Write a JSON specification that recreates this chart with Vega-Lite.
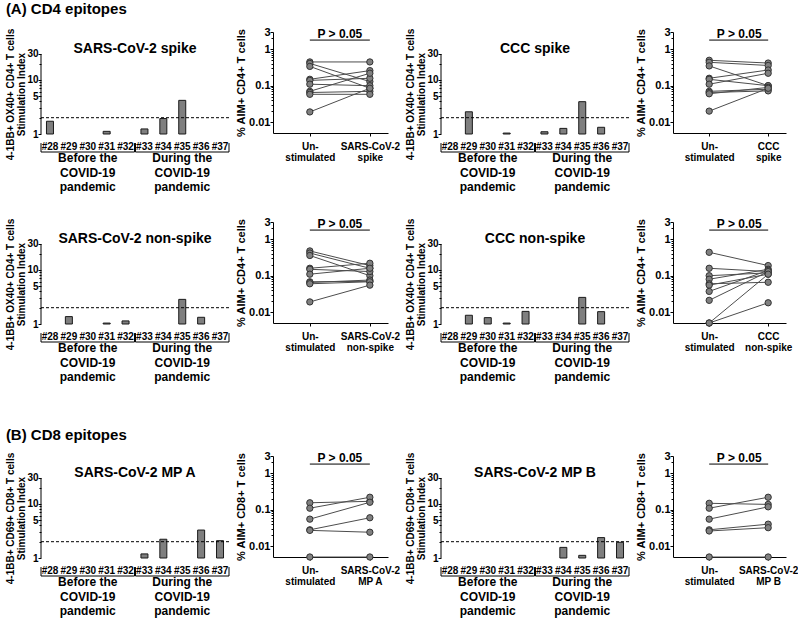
{
  "$schema": "https://vega.github.io/schema/vega-lite/v6.json",
  "background": "white",
  "padding": {"left": 5, "right": 0, "top": 2, "bottom": 2},
  "config": {
    "font": "Liberation Sans",
    "view": {"stroke": null},
    "axis": {"labelFont": "Liberation Sans", "titleFont": "Liberation Sans", "labelFontWeight": "bold", "titleFontWeight": "bold", "labelColor": "#000", "titleColor": "#000", "domainColor": "#000", "tickColor": "#000", "grid": false, "labelOverlap": false},
    "title": {"font": "Liberation Sans", "fontWeight": "bold", "color": "#000"},
    "text": {"font": "Liberation Sans", "fontWeight": "bold", "color": "#000"}
  },
  "datasets": {
    "bars": [
      {"panel": "SARS-CoV-2 spike", "donor": "#28", "si": 1.72},
      {"panel": "SARS-CoV-2 spike", "donor": "#31", "si": 1.12},
      {"panel": "SARS-CoV-2 spike", "donor": "#33", "si": 1.24},
      {"panel": "SARS-CoV-2 spike", "donor": "#34", "si": 1.93},
      {"panel": "SARS-CoV-2 spike", "donor": "#35", "si": 4.18},
      {"panel": "CCC spike", "donor": "#29", "si": 2.57},
      {"panel": "CCC spike", "donor": "#31", "si": 1.04},
      {"panel": "CCC spike", "donor": "#33", "si": 1.1},
      {"panel": "CCC spike", "donor": "#34", "si": 1.27},
      {"panel": "CCC spike", "donor": "#35", "si": 3.95},
      {"panel": "CCC spike", "donor": "#36", "si": 1.33},
      {"panel": "SARS-CoV-2 non-spike", "donor": "#29", "si": 1.37},
      {"panel": "SARS-CoV-2 non-spike", "donor": "#31", "si": 1.04},
      {"panel": "SARS-CoV-2 non-spike", "donor": "#32", "si": 1.14},
      {"panel": "SARS-CoV-2 non-spike", "donor": "#35", "si": 2.85},
      {"panel": "SARS-CoV-2 non-spike", "donor": "#36", "si": 1.33},
      {"panel": "CCC non-spike", "donor": "#29", "si": 1.45},
      {"panel": "CCC non-spike", "donor": "#30", "si": 1.31},
      {"panel": "CCC non-spike", "donor": "#31", "si": 1.04},
      {"panel": "CCC non-spike", "donor": "#32", "si": 1.71},
      {"panel": "CCC non-spike", "donor": "#35", "si": 3.1},
      {"panel": "CCC non-spike", "donor": "#36", "si": 1.69},
      {"panel": "SARS-CoV-2 MP A", "donor": "#33", "si": 1.19},
      {"panel": "SARS-CoV-2 MP A", "donor": "#34", "si": 2.22},
      {"panel": "SARS-CoV-2 MP A", "donor": "#36", "si": 3.28},
      {"panel": "SARS-CoV-2 MP A", "donor": "#37", "si": 2.09},
      {"panel": "SARS-CoV-2 MP B", "donor": "#34", "si": 1.57},
      {"panel": "SARS-CoV-2 MP B", "donor": "#35", "si": 1.12},
      {"panel": "SARS-CoV-2 MP B", "donor": "#36", "si": 2.38},
      {"panel": "SARS-CoV-2 MP B", "donor": "#37", "si": 1.95}
    ],
    "cutoff": [{"si": 2}],
    "groups": [
      {"first": "#28", "last": "#32", "mid": "#30", "label": "Before the\nCOVID-19\npandemic"},
      {"first": "#33", "last": "#37", "mid": "#35", "label": "During the\nCOVID-19\npandemic"}
    ],
    "pval": [{"label": "P > 0.05"}],
    "dots": [
      {"panel": "SARS-CoV-2 spike", "pair": 1, "condition": "Un-\nstimulated", "pct": 0.45},
      {"panel": "SARS-CoV-2 spike", "pair": 1, "condition": "SARS-CoV-2\nspike", "pct": 0.45},
      {"panel": "SARS-CoV-2 spike", "pair": 2, "condition": "Un-\nstimulated", "pct": 0.41},
      {"panel": "SARS-CoV-2 spike", "pair": 2, "condition": "SARS-CoV-2\nspike", "pct": 0.13},
      {"panel": "SARS-CoV-2 spike", "pair": 3, "condition": "Un-\nstimulated", "pct": 0.34},
      {"panel": "SARS-CoV-2 spike", "pair": 3, "condition": "SARS-CoV-2\nspike", "pct": 0.085},
      {"panel": "SARS-CoV-2 spike", "pair": 4, "condition": "Un-\nstimulated", "pct": 0.15},
      {"panel": "SARS-CoV-2 spike", "pair": 4, "condition": "SARS-CoV-2\nspike", "pct": 0.26},
      {"panel": "SARS-CoV-2 spike", "pair": 5, "condition": "Un-\nstimulated", "pct": 0.14},
      {"panel": "SARS-CoV-2 spike", "pair": 5, "condition": "SARS-CoV-2\nspike", "pct": 0.16},
      {"panel": "SARS-CoV-2 spike", "pair": 6, "condition": "Un-\nstimulated", "pct": 0.11},
      {"panel": "SARS-CoV-2 spike", "pair": 6, "condition": "SARS-CoV-2\nspike", "pct": 0.1},
      {"panel": "SARS-CoV-2 spike", "pair": 7, "condition": "Un-\nstimulated", "pct": 0.07},
      {"panel": "SARS-CoV-2 spike", "pair": 7, "condition": "SARS-CoV-2\nspike", "pct": 0.22},
      {"panel": "SARS-CoV-2 spike", "pair": 8, "condition": "Un-\nstimulated", "pct": 0.065},
      {"panel": "SARS-CoV-2 spike", "pair": 8, "condition": "SARS-CoV-2\nspike", "pct": 0.07},
      {"panel": "SARS-CoV-2 spike", "pair": 9, "condition": "Un-\nstimulated", "pct": 0.058},
      {"panel": "SARS-CoV-2 spike", "pair": 9, "condition": "SARS-CoV-2\nspike", "pct": 0.058},
      {"panel": "SARS-CoV-2 spike", "pair": 10, "condition": "Un-\nstimulated", "pct": 0.019},
      {"panel": "SARS-CoV-2 spike", "pair": 10, "condition": "SARS-CoV-2\nspike", "pct": 0.085},
      {"panel": "CCC spike", "pair": 1, "condition": "Un-\nstimulated", "pct": 0.5},
      {"panel": "CCC spike", "pair": 1, "condition": "CCC\nspike", "pct": 0.42},
      {"panel": "CCC spike", "pair": 2, "condition": "Un-\nstimulated", "pct": 0.44},
      {"panel": "CCC spike", "pair": 2, "condition": "CCC\nspike", "pct": 0.36},
      {"panel": "CCC spike", "pair": 3, "condition": "Un-\nstimulated", "pct": 0.35},
      {"panel": "CCC spike", "pair": 3, "condition": "CCC\nspike", "pct": 0.1},
      {"panel": "CCC spike", "pair": 4, "condition": "Un-\nstimulated", "pct": 0.16},
      {"panel": "CCC spike", "pair": 4, "condition": "CCC\nspike", "pct": 0.27},
      {"panel": "CCC spike", "pair": 5, "condition": "Un-\nstimulated", "pct": 0.15},
      {"panel": "CCC spike", "pair": 5, "condition": "CCC\nspike", "pct": 0.1},
      {"panel": "CCC spike", "pair": 6, "condition": "Un-\nstimulated", "pct": 0.11},
      {"panel": "CCC spike", "pair": 6, "condition": "CCC\nspike", "pct": 0.22},
      {"panel": "CCC spike", "pair": 7, "condition": "Un-\nstimulated", "pct": 0.07},
      {"panel": "CCC spike", "pair": 7, "condition": "CCC\nspike", "pct": 0.08},
      {"panel": "CCC spike", "pair": 8, "condition": "Un-\nstimulated", "pct": 0.065},
      {"panel": "CCC spike", "pair": 8, "condition": "CCC\nspike", "pct": 0.072},
      {"panel": "CCC spike", "pair": 9, "condition": "Un-\nstimulated", "pct": 0.06},
      {"panel": "CCC spike", "pair": 9, "condition": "CCC\nspike", "pct": 0.09},
      {"panel": "CCC spike", "pair": 10, "condition": "Un-\nstimulated", "pct": 0.02},
      {"panel": "CCC spike", "pair": 10, "condition": "CCC\nspike", "pct": 0.085},
      {"panel": "SARS-CoV-2 non-spike", "pair": 1, "condition": "Un-\nstimulated", "pct": 0.48},
      {"panel": "SARS-CoV-2 non-spike", "pair": 1, "condition": "SARS-CoV-2\nnon-spike", "pct": 0.19},
      {"panel": "SARS-CoV-2 non-spike", "pair": 2, "condition": "Un-\nstimulated", "pct": 0.42},
      {"panel": "SARS-CoV-2 non-spike", "pair": 2, "condition": "SARS-CoV-2\nnon-spike", "pct": 0.16},
      {"panel": "SARS-CoV-2 non-spike", "pair": 3, "condition": "Un-\nstimulated", "pct": 0.36},
      {"panel": "SARS-CoV-2 non-spike", "pair": 3, "condition": "SARS-CoV-2\nnon-spike", "pct": 0.1},
      {"panel": "SARS-CoV-2 non-spike", "pair": 4, "condition": "Un-\nstimulated", "pct": 0.16},
      {"panel": "SARS-CoV-2 non-spike", "pair": 4, "condition": "SARS-CoV-2\nnon-spike", "pct": 0.22},
      {"panel": "SARS-CoV-2 non-spike", "pair": 5, "condition": "Un-\nstimulated", "pct": 0.15},
      {"panel": "SARS-CoV-2 non-spike", "pair": 5, "condition": "SARS-CoV-2\nnon-spike", "pct": 0.13},
      {"panel": "SARS-CoV-2 non-spike", "pair": 6, "condition": "Un-\nstimulated", "pct": 0.11},
      {"panel": "SARS-CoV-2 non-spike", "pair": 6, "condition": "SARS-CoV-2\nnon-spike", "pct": 0.16},
      {"panel": "SARS-CoV-2 non-spike", "pair": 7, "condition": "Un-\nstimulated", "pct": 0.068},
      {"panel": "SARS-CoV-2 non-spike", "pair": 7, "condition": "SARS-CoV-2\nnon-spike", "pct": 0.07},
      {"panel": "SARS-CoV-2 non-spike", "pair": 8, "condition": "Un-\nstimulated", "pct": 0.065},
      {"panel": "SARS-CoV-2 non-spike", "pair": 8, "condition": "SARS-CoV-2\nnon-spike", "pct": 0.076},
      {"panel": "SARS-CoV-2 non-spike", "pair": 9, "condition": "Un-\nstimulated", "pct": 0.06},
      {"panel": "SARS-CoV-2 non-spike", "pair": 9, "condition": "SARS-CoV-2\nnon-spike", "pct": 0.068},
      {"panel": "SARS-CoV-2 non-spike", "pair": 10, "condition": "Un-\nstimulated", "pct": 0.019},
      {"panel": "SARS-CoV-2 non-spike", "pair": 10, "condition": "SARS-CoV-2\nnon-spike", "pct": 0.055},
      {"panel": "CCC non-spike", "pair": 1, "condition": "Un-\nstimulated", "pct": 0.44},
      {"panel": "CCC non-spike", "pair": 1, "condition": "CCC\nnon-spike", "pct": 0.19},
      {"panel": "CCC non-spike", "pair": 2, "condition": "Un-\nstimulated", "pct": 0.16},
      {"panel": "CCC non-spike", "pair": 2, "condition": "CCC\nnon-spike", "pct": 0.13},
      {"panel": "CCC non-spike", "pair": 3, "condition": "Un-\nstimulated", "pct": 0.1},
      {"panel": "CCC non-spike", "pair": 3, "condition": "CCC\nnon-spike", "pct": 0.12},
      {"panel": "CCC non-spike", "pair": 4, "condition": "Un-\nstimulated", "pct": 0.08},
      {"panel": "CCC non-spike", "pair": 4, "condition": "CCC\nnon-spike", "pct": 0.15},
      {"panel": "CCC non-spike", "pair": 5, "condition": "Un-\nstimulated", "pct": 0.06},
      {"panel": "CCC non-spike", "pair": 5, "condition": "CCC\nnon-spike", "pct": 0.066},
      {"panel": "CCC non-spike", "pair": 6, "condition": "Un-\nstimulated", "pct": 0.055},
      {"panel": "CCC non-spike", "pair": 6, "condition": "CCC\nnon-spike", "pct": 0.11},
      {"panel": "CCC non-spike", "pair": 7, "condition": "Un-\nstimulated", "pct": 0.037},
      {"panel": "CCC non-spike", "pair": 7, "condition": "CCC\nnon-spike", "pct": 0.14},
      {"panel": "CCC non-spike", "pair": 8, "condition": "Un-\nstimulated", "pct": 0.021},
      {"panel": "CCC non-spike", "pair": 8, "condition": "CCC\nnon-spike", "pct": 0.13},
      {"panel": "CCC non-spike", "pair": 9, "condition": "Un-\nstimulated", "pct": 0.005},
      {"panel": "CCC non-spike", "pair": 9, "condition": "CCC\nnon-spike", "pct": 0.11},
      {"panel": "CCC non-spike", "pair": 10, "condition": "Un-\nstimulated", "pct": 0.005},
      {"panel": "CCC non-spike", "pair": 10, "condition": "CCC\nnon-spike", "pct": 0.018},
      {"panel": "SARS-CoV-2 MP A", "pair": 1, "condition": "Un-\nstimulated", "pct": 0.155},
      {"panel": "SARS-CoV-2 MP A", "pair": 1, "condition": "SARS-CoV-2\nMP A", "pct": 0.17},
      {"panel": "SARS-CoV-2 MP A", "pair": 2, "condition": "Un-\nstimulated", "pct": 0.11},
      {"panel": "SARS-CoV-2 MP A", "pair": 2, "condition": "SARS-CoV-2\nMP A", "pct": 0.22},
      {"panel": "SARS-CoV-2 MP A", "pair": 3, "condition": "Un-\nstimulated", "pct": 0.055},
      {"panel": "SARS-CoV-2 MP A", "pair": 3, "condition": "SARS-CoV-2\nMP A", "pct": 0.16},
      {"panel": "SARS-CoV-2 MP A", "pair": 4, "condition": "Un-\nstimulated", "pct": 0.028},
      {"panel": "SARS-CoV-2 MP A", "pair": 4, "condition": "SARS-CoV-2\nMP A", "pct": 0.06},
      {"panel": "SARS-CoV-2 MP A", "pair": 5, "condition": "Un-\nstimulated", "pct": 0.027},
      {"panel": "SARS-CoV-2 MP A", "pair": 5, "condition": "SARS-CoV-2\nMP A", "pct": 0.024},
      {"panel": "SARS-CoV-2 MP A", "pair": 6, "condition": "Un-\nstimulated", "pct": 0.005},
      {"panel": "SARS-CoV-2 MP A", "pair": 6, "condition": "SARS-CoV-2\nMP A", "pct": 0.005},
      {"panel": "SARS-CoV-2 MP B", "pair": 1, "condition": "Un-\nstimulated", "pct": 0.15},
      {"panel": "SARS-CoV-2 MP B", "pair": 1, "condition": "SARS-CoV-2\nMP B", "pct": 0.14},
      {"panel": "SARS-CoV-2 MP B", "pair": 2, "condition": "Un-\nstimulated", "pct": 0.11},
      {"panel": "SARS-CoV-2 MP B", "pair": 2, "condition": "SARS-CoV-2\nMP B", "pct": 0.22},
      {"panel": "SARS-CoV-2 MP B", "pair": 3, "condition": "Un-\nstimulated", "pct": 0.055},
      {"panel": "SARS-CoV-2 MP B", "pair": 3, "condition": "SARS-CoV-2\nMP B", "pct": 0.12},
      {"panel": "SARS-CoV-2 MP B", "pair": 4, "condition": "Un-\nstimulated", "pct": 0.028},
      {"panel": "SARS-CoV-2 MP B", "pair": 4, "condition": "SARS-CoV-2\nMP B", "pct": 0.04},
      {"panel": "SARS-CoV-2 MP B", "pair": 5, "condition": "Un-\nstimulated", "pct": 0.026},
      {"panel": "SARS-CoV-2 MP B", "pair": 5, "condition": "SARS-CoV-2\nMP B", "pct": 0.032},
      {"panel": "SARS-CoV-2 MP B", "pair": 6, "condition": "Un-\nstimulated", "pct": 0.005},
      {"panel": "SARS-CoV-2 MP B", "pair": 6, "condition": "SARS-CoV-2\nMP B", "pct": 0.005}
    ]
  },
  "spacing": 44,
  "vconcat": [
    {
      "spacing": 22,
      "vconcat": [
        {
          "title": {"text": "(A) CD4 epitopes", "anchor": "start", "fontSize": 15, "offset": 9},
          "spacing": 5,
          "hconcat": [
            {
              "width": 188, "height": 102,
              "title": {"text": "SARS-CoV-2 spike", "fontSize": 14, "offset": -28},
              "layer": [
                {"data": {"name": "bars"}, "transform": [{"filter": "datum.panel === 'SARS-CoV-2 spike'"}],
                 "mark": {"type": "bar", "width": 7, "fill": "#7f7f7f", "stroke": "#1a1a1a", "strokeWidth": 1},
                 "encoding": {
                   "x": {"field": "donor", "type": "ordinal", "scale": {"domain": ["#28","#29","#30","#31","#32","#33","#34","#35","#36","#37"], "paddingInner": 0.05, "paddingOuter": 0}, "axis": {"title": null, "domain": false, "ticks": false, "labelAngle": 0, "labelFontSize": 10, "labelPadding": 7}},
                   "y": {"field": "si", "type": "quantitative", "scale": {"type": "log", "domain": [1, 76.4], "nice": false}, "axis": {"title": ["4-1BB+ OX40+ CD4+ T cells", "Stimulation Index"], "titleFontSize": 10, "titleLineHeight": 11, "titlePadding": 0, "titleY": 62, "domain": false, "values": [1,2,3,4,5,6,7,8,9,10,20,30], "labelExpr": "indexof([1,5,10,30], datum.value) >= 0 ? toString(datum.value) : ''", "labelFontSize": 10, "labelPadding": 0, "tickSize": {"condition": {"test": "indexof([1,5,10,30], datum.value) >= 0", "value": 3}, "value": 2}}},
                   "y2": {"datum": 1}}},
                {"data": {"name": "cutoff"}, "mark": {"type": "rule", "color": "#000"}, "encoding": {"x": {"datum": "#28", "bandPosition": 0}, "y": {"datum": 1}, "y2": {"datum": 30}}},
                {"data": {"name": "cutoff"}, "mark": {"type": "rule", "strokeDash": [3, 2], "color": "#000"}, "encoding": {"y": {"field": "si", "type": "quantitative"}}},
                {"data": {"name": "groups"}, "layer": [
                  {"mark": {"type": "rule", "color": "#000"}, "encoding": {"x": {"field": "first", "type": "ordinal", "bandPosition": 0}, "x2": {"field": "last", "bandPosition": 1}, "y": {"datum": 0.465}}},
                  {"mark": {"type": "rule", "color": "#000"}, "encoding": {"x": {"field": "first", "type": "ordinal", "bandPosition": 0}, "y": {"datum": 0.68}, "y2": {"datum": 0.465}}},
                  {"mark": {"type": "rule", "color": "#000"}, "encoding": {"x": {"field": "last", "type": "ordinal", "bandPosition": 1}, "y": {"datum": 0.68}, "y2": {"datum": 0.465}}},
                  {"mark": {"type": "text", "baseline": "top", "lineBreak": "\n", "fontSize": 12, "lineHeight": 14.5, "fontWeight": "bold"}, "encoding": {"x": {"field": "mid", "type": "ordinal"}, "y": {"datum": 0.44}, "text": {"field": "label"}}}
                ]}
              ]
            },
            {
              "width": 115, "height": 101,
              "layer": [
                {"data": {"name": "dots"}, "transform": [{"filter": "datum.panel === 'SARS-CoV-2 spike'"}],
                 "mark": {"type": "line", "color": "#4d4d4d", "strokeWidth": 1},
                 "encoding": {
                   "x": {"field": "condition", "type": "ordinal", "scale": {"type": "point", "domain": ["Un-\nstimulated", "SARS-CoV-2\nspike"], "padding": 0.458, "align": 0.67}, "axis": {"title": null, "labelAngle": 0, "labelFontSize": 10, "labelLineHeight": 11, "labelPadding": 5, "tickSize": 3, "labelExpr": "split(datum.label, '\\n')"}},
                   "y": {"field": "pct", "type": "quantitative", "scale": {"type": "log", "domain": [0.005, 3], "nice": false}, "axis": {"title": "% AIM+ CD4+ T cells", "titleFontSize": 11, "titlePadding": 2, "values": [0.01,0.02,0.03,0.04,0.05,0.06,0.07,0.08,0.09,0.1,0.2,0.3,0.4,0.5,0.6,0.7,0.8,0.9,1,2,3], "labelExpr": "indexof([0.01,0.1,1,3], datum.value) >= 0 ? toString(datum.value) : ''", "labelFontSize": 11, "labelPadding": 0, "tickSize": {"condition": {"test": "indexof([0.01,0.1,1,3], datum.value) >= 0", "value": 3}, "value": 2}}},
                   "detail": {"field": "pair"}}},
                {"data": {"name": "dots"}, "transform": [{"filter": "datum.panel === 'SARS-CoV-2 spike'"}],
                 "mark": {"type": "circle", "size": 40, "fill": "#808080", "stroke": "#333", "strokeWidth": 1, "opacity": 1},
                 "encoding": {"x": {"field": "condition", "type": "ordinal"}, "y": {"field": "pct", "type": "quantitative"}}},
                {"data": {"name": "pval"}, "mark": {"type": "rule", "color": "#000"}, "encoding": {"x": {"datum": "Un-\nstimulated"}, "x2": {"datum": "SARS-CoV-2\nspike"}, "y": {"datum": 1.8}}},
                {"data": {"name": "pval"}, "mark": {"type": "text", "fontSize": 12, "dx": 30, "baseline": "alphabetic"}, "encoding": {"x": {"datum": "Un-\nstimulated"}, "y": {"datum": 2.0}, "text": {"field": "label"}}}
              ]
            },
            {
              "width": 188, "height": 102,
              "title": {"text": "CCC spike", "fontSize": 14, "offset": -28},
              "layer": [
                {"data": {"name": "bars"}, "transform": [{"filter": "datum.panel === 'CCC spike'"}],
                 "mark": {"type": "bar", "width": 7, "fill": "#7f7f7f", "stroke": "#1a1a1a", "strokeWidth": 1},
                 "encoding": {
                   "x": {"field": "donor", "type": "ordinal", "scale": {"domain": ["#28","#29","#30","#31","#32","#33","#34","#35","#36","#37"], "paddingInner": 0.05, "paddingOuter": 0}, "axis": {"title": null, "domain": false, "ticks": false, "labelAngle": 0, "labelFontSize": 10, "labelPadding": 7}},
                   "y": {"field": "si", "type": "quantitative", "scale": {"type": "log", "domain": [1, 76.4], "nice": false}, "axis": {"title": ["4-1BB+ OX40+ CD4+ T cells", "Stimulation Index"], "titleFontSize": 10, "titleLineHeight": 11, "titlePadding": 0, "titleY": 62, "domain": false, "values": [1,2,3,4,5,6,7,8,9,10,20,30], "labelExpr": "indexof([1,5,10,30], datum.value) >= 0 ? toString(datum.value) : ''", "labelFontSize": 10, "labelPadding": 0, "tickSize": {"condition": {"test": "indexof([1,5,10,30], datum.value) >= 0", "value": 3}, "value": 2}}},
                   "y2": {"datum": 1}}},
                {"data": {"name": "cutoff"}, "mark": {"type": "rule", "color": "#000"}, "encoding": {"x": {"datum": "#28", "bandPosition": 0}, "y": {"datum": 1}, "y2": {"datum": 30}}},
                {"data": {"name": "cutoff"}, "mark": {"type": "rule", "strokeDash": [3, 2], "color": "#000"}, "encoding": {"y": {"field": "si", "type": "quantitative"}}},
                {"data": {"name": "groups"}, "layer": [
                  {"mark": {"type": "rule", "color": "#000"}, "encoding": {"x": {"field": "first", "type": "ordinal", "bandPosition": 0}, "x2": {"field": "last", "bandPosition": 1}, "y": {"datum": 0.465}}},
                  {"mark": {"type": "rule", "color": "#000"}, "encoding": {"x": {"field": "first", "type": "ordinal", "bandPosition": 0}, "y": {"datum": 0.68}, "y2": {"datum": 0.465}}},
                  {"mark": {"type": "rule", "color": "#000"}, "encoding": {"x": {"field": "last", "type": "ordinal", "bandPosition": 1}, "y": {"datum": 0.68}, "y2": {"datum": 0.465}}},
                  {"mark": {"type": "text", "baseline": "top", "lineBreak": "\n", "fontSize": 12, "lineHeight": 14.5, "fontWeight": "bold"}, "encoding": {"x": {"field": "mid", "type": "ordinal"}, "y": {"datum": 0.44}, "text": {"field": "label"}}}
                ]}
              ]
            },
            {
              "width": 113, "height": 101,
              "layer": [
                {"data": {"name": "dots"}, "transform": [{"filter": "datum.panel === 'CCC spike'"}],
                 "mark": {"type": "line", "color": "#4d4d4d", "strokeWidth": 1},
                 "encoding": {
                   "x": {"field": "condition", "type": "ordinal", "scale": {"type": "point", "domain": ["Un-\nstimulated", "CCC\nspike"], "padding": 0.458, "align": 0.67}, "axis": {"title": null, "labelAngle": 0, "labelFontSize": 10, "labelLineHeight": 11, "labelPadding": 5, "tickSize": 3, "labelExpr": "split(datum.label, '\\n')"}},
                   "y": {"field": "pct", "type": "quantitative", "scale": {"type": "log", "domain": [0.005, 3], "nice": false}, "axis": {"title": "% AIM+ CD4+ T cells", "titleFontSize": 11, "titlePadding": 2, "values": [0.01,0.02,0.03,0.04,0.05,0.06,0.07,0.08,0.09,0.1,0.2,0.3,0.4,0.5,0.6,0.7,0.8,0.9,1,2,3], "labelExpr": "indexof([0.01,0.1,1,3], datum.value) >= 0 ? toString(datum.value) : ''", "labelFontSize": 11, "labelPadding": 0, "tickSize": {"condition": {"test": "indexof([0.01,0.1,1,3], datum.value) >= 0", "value": 3}, "value": 2}}},
                   "detail": {"field": "pair"}}},
                {"data": {"name": "dots"}, "transform": [{"filter": "datum.panel === 'CCC spike'"}],
                 "mark": {"type": "circle", "size": 40, "fill": "#808080", "stroke": "#333", "strokeWidth": 1, "opacity": 1},
                 "encoding": {"x": {"field": "condition", "type": "ordinal"}, "y": {"field": "pct", "type": "quantitative"}}},
                {"data": {"name": "pval"}, "mark": {"type": "rule", "color": "#000"}, "encoding": {"x": {"datum": "Un-\nstimulated"}, "x2": {"datum": "CCC\nspike"}, "y": {"datum": 1.8}}},
                {"data": {"name": "pval"}, "mark": {"type": "text", "fontSize": 12, "dx": 30, "baseline": "alphabetic"}, "encoding": {"x": {"datum": "Un-\nstimulated"}, "y": {"datum": 2.0}, "text": {"field": "label"}}}
              ]
            }
          ]
        },
        {
          "spacing": 5,
          "hconcat": [
            {
              "width": 188, "height": 102,
              "title": {"text": "SARS-CoV-2 non-spike", "fontSize": 14, "offset": -28},
              "layer": [
                {"data": {"name": "bars"}, "transform": [{"filter": "datum.panel === 'SARS-CoV-2 non-spike'"}],
                 "mark": {"type": "bar", "width": 7, "fill": "#7f7f7f", "stroke": "#1a1a1a", "strokeWidth": 1},
                 "encoding": {
                   "x": {"field": "donor", "type": "ordinal", "scale": {"domain": ["#28","#29","#30","#31","#32","#33","#34","#35","#36","#37"], "paddingInner": 0.05, "paddingOuter": 0}, "axis": {"title": null, "domain": false, "ticks": false, "labelAngle": 0, "labelFontSize": 10, "labelPadding": 7}},
                   "y": {"field": "si", "type": "quantitative", "scale": {"type": "log", "domain": [1, 76.4], "nice": false}, "axis": {"title": ["4-1BB+ OX40+ CD4+ T cells", "Stimulation Index"], "titleFontSize": 10, "titleLineHeight": 11, "titlePadding": 0, "titleY": 62, "domain": false, "values": [1,2,3,4,5,6,7,8,9,10,20,30], "labelExpr": "indexof([1,5,10,30], datum.value) >= 0 ? toString(datum.value) : ''", "labelFontSize": 10, "labelPadding": 0, "tickSize": {"condition": {"test": "indexof([1,5,10,30], datum.value) >= 0", "value": 3}, "value": 2}}},
                   "y2": {"datum": 1}}},
                {"data": {"name": "cutoff"}, "mark": {"type": "rule", "color": "#000"}, "encoding": {"x": {"datum": "#28", "bandPosition": 0}, "y": {"datum": 1}, "y2": {"datum": 30}}},
                {"data": {"name": "cutoff"}, "mark": {"type": "rule", "strokeDash": [3, 2], "color": "#000"}, "encoding": {"y": {"field": "si", "type": "quantitative"}}},
                {"data": {"name": "groups"}, "layer": [
                  {"mark": {"type": "rule", "color": "#000"}, "encoding": {"x": {"field": "first", "type": "ordinal", "bandPosition": 0}, "x2": {"field": "last", "bandPosition": 1}, "y": {"datum": 0.465}}},
                  {"mark": {"type": "rule", "color": "#000"}, "encoding": {"x": {"field": "first", "type": "ordinal", "bandPosition": 0}, "y": {"datum": 0.68}, "y2": {"datum": 0.465}}},
                  {"mark": {"type": "rule", "color": "#000"}, "encoding": {"x": {"field": "last", "type": "ordinal", "bandPosition": 1}, "y": {"datum": 0.68}, "y2": {"datum": 0.465}}},
                  {"mark": {"type": "text", "baseline": "top", "lineBreak": "\n", "fontSize": 12, "lineHeight": 14.5, "fontWeight": "bold"}, "encoding": {"x": {"field": "mid", "type": "ordinal"}, "y": {"datum": 0.44}, "text": {"field": "label"}}}
                ]}
              ]
            },
            {
              "width": 115, "height": 101,
              "layer": [
                {"data": {"name": "dots"}, "transform": [{"filter": "datum.panel === 'SARS-CoV-2 non-spike'"}],
                 "mark": {"type": "line", "color": "#4d4d4d", "strokeWidth": 1},
                 "encoding": {
                   "x": {"field": "condition", "type": "ordinal", "scale": {"type": "point", "domain": ["Un-\nstimulated", "SARS-CoV-2\nnon-spike"], "padding": 0.458, "align": 0.67}, "axis": {"title": null, "labelAngle": 0, "labelFontSize": 10, "labelLineHeight": 11, "labelPadding": 5, "tickSize": 3, "labelExpr": "split(datum.label, '\\n')"}},
                   "y": {"field": "pct", "type": "quantitative", "scale": {"type": "log", "domain": [0.005, 3], "nice": false}, "axis": {"title": "% AIM+ CD4+ T cells", "titleFontSize": 11, "titlePadding": 2, "values": [0.01,0.02,0.03,0.04,0.05,0.06,0.07,0.08,0.09,0.1,0.2,0.3,0.4,0.5,0.6,0.7,0.8,0.9,1,2,3], "labelExpr": "indexof([0.01,0.1,1,3], datum.value) >= 0 ? toString(datum.value) : ''", "labelFontSize": 11, "labelPadding": 0, "tickSize": {"condition": {"test": "indexof([0.01,0.1,1,3], datum.value) >= 0", "value": 3}, "value": 2}}},
                   "detail": {"field": "pair"}}},
                {"data": {"name": "dots"}, "transform": [{"filter": "datum.panel === 'SARS-CoV-2 non-spike'"}],
                 "mark": {"type": "circle", "size": 40, "fill": "#808080", "stroke": "#333", "strokeWidth": 1, "opacity": 1},
                 "encoding": {"x": {"field": "condition", "type": "ordinal"}, "y": {"field": "pct", "type": "quantitative"}}},
                {"data": {"name": "pval"}, "mark": {"type": "rule", "color": "#000"}, "encoding": {"x": {"datum": "Un-\nstimulated"}, "x2": {"datum": "SARS-CoV-2\nnon-spike"}, "y": {"datum": 1.8}}},
                {"data": {"name": "pval"}, "mark": {"type": "text", "fontSize": 12, "dx": 30, "baseline": "alphabetic"}, "encoding": {"x": {"datum": "Un-\nstimulated"}, "y": {"datum": 2.0}, "text": {"field": "label"}}}
              ]
            },
            {
              "width": 188, "height": 102,
              "title": {"text": "CCC non-spike", "fontSize": 14, "offset": -28},
              "layer": [
                {"data": {"name": "bars"}, "transform": [{"filter": "datum.panel === 'CCC non-spike'"}],
                 "mark": {"type": "bar", "width": 7, "fill": "#7f7f7f", "stroke": "#1a1a1a", "strokeWidth": 1},
                 "encoding": {
                   "x": {"field": "donor", "type": "ordinal", "scale": {"domain": ["#28","#29","#30","#31","#32","#33","#34","#35","#36","#37"], "paddingInner": 0.05, "paddingOuter": 0}, "axis": {"title": null, "domain": false, "ticks": false, "labelAngle": 0, "labelFontSize": 10, "labelPadding": 7}},
                   "y": {"field": "si", "type": "quantitative", "scale": {"type": "log", "domain": [1, 76.4], "nice": false}, "axis": {"title": ["4-1BB+ OX40+ CD4+ T cells", "Stimulation Index"], "titleFontSize": 10, "titleLineHeight": 11, "titlePadding": 0, "titleY": 62, "domain": false, "values": [1,2,3,4,5,6,7,8,9,10,20,30], "labelExpr": "indexof([1,5,10,30], datum.value) >= 0 ? toString(datum.value) : ''", "labelFontSize": 10, "labelPadding": 0, "tickSize": {"condition": {"test": "indexof([1,5,10,30], datum.value) >= 0", "value": 3}, "value": 2}}},
                   "y2": {"datum": 1}}},
                {"data": {"name": "cutoff"}, "mark": {"type": "rule", "color": "#000"}, "encoding": {"x": {"datum": "#28", "bandPosition": 0}, "y": {"datum": 1}, "y2": {"datum": 30}}},
                {"data": {"name": "cutoff"}, "mark": {"type": "rule", "strokeDash": [3, 2], "color": "#000"}, "encoding": {"y": {"field": "si", "type": "quantitative"}}},
                {"data": {"name": "groups"}, "layer": [
                  {"mark": {"type": "rule", "color": "#000"}, "encoding": {"x": {"field": "first", "type": "ordinal", "bandPosition": 0}, "x2": {"field": "last", "bandPosition": 1}, "y": {"datum": 0.465}}},
                  {"mark": {"type": "rule", "color": "#000"}, "encoding": {"x": {"field": "first", "type": "ordinal", "bandPosition": 0}, "y": {"datum": 0.68}, "y2": {"datum": 0.465}}},
                  {"mark": {"type": "rule", "color": "#000"}, "encoding": {"x": {"field": "last", "type": "ordinal", "bandPosition": 1}, "y": {"datum": 0.68}, "y2": {"datum": 0.465}}},
                  {"mark": {"type": "text", "baseline": "top", "lineBreak": "\n", "fontSize": 12, "lineHeight": 14.5, "fontWeight": "bold"}, "encoding": {"x": {"field": "mid", "type": "ordinal"}, "y": {"datum": 0.44}, "text": {"field": "label"}}}
                ]}
              ]
            },
            {
              "width": 113, "height": 101,
              "layer": [
                {"data": {"name": "dots"}, "transform": [{"filter": "datum.panel === 'CCC non-spike'"}],
                 "mark": {"type": "line", "color": "#4d4d4d", "strokeWidth": 1},
                 "encoding": {
                   "x": {"field": "condition", "type": "ordinal", "scale": {"type": "point", "domain": ["Un-\nstimulated", "CCC\nnon-spike"], "padding": 0.458, "align": 0.67}, "axis": {"title": null, "labelAngle": 0, "labelFontSize": 10, "labelLineHeight": 11, "labelPadding": 5, "tickSize": 3, "labelExpr": "split(datum.label, '\\n')"}},
                   "y": {"field": "pct", "type": "quantitative", "scale": {"type": "log", "domain": [0.005, 3], "nice": false}, "axis": {"title": "% AIM+ CD4+ T cells", "titleFontSize": 11, "titlePadding": 2, "values": [0.01,0.02,0.03,0.04,0.05,0.06,0.07,0.08,0.09,0.1,0.2,0.3,0.4,0.5,0.6,0.7,0.8,0.9,1,2,3], "labelExpr": "indexof([0.01,0.1,1,3], datum.value) >= 0 ? toString(datum.value) : ''", "labelFontSize": 11, "labelPadding": 0, "tickSize": {"condition": {"test": "indexof([0.01,0.1,1,3], datum.value) >= 0", "value": 3}, "value": 2}}},
                   "detail": {"field": "pair"}}},
                {"data": {"name": "dots"}, "transform": [{"filter": "datum.panel === 'CCC non-spike'"}],
                 "mark": {"type": "circle", "size": 40, "fill": "#808080", "stroke": "#333", "strokeWidth": 1, "opacity": 1},
                 "encoding": {"x": {"field": "condition", "type": "ordinal"}, "y": {"field": "pct", "type": "quantitative"}}},
                {"data": {"name": "pval"}, "mark": {"type": "rule", "color": "#000"}, "encoding": {"x": {"datum": "Un-\nstimulated"}, "x2": {"datum": "CCC\nnon-spike"}, "y": {"datum": 1.8}}},
                {"data": {"name": "pval"}, "mark": {"type": "text", "fontSize": 12, "dx": 30, "baseline": "alphabetic"}, "encoding": {"x": {"datum": "Un-\nstimulated"}, "y": {"datum": 2.0}, "text": {"field": "label"}}}
              ]
            }
          ]
        }
      ]
    },
    {
      "title": {"text": "(B) CD8 epitopes", "anchor": "start", "fontSize": 15, "offset": 7},
      "spacing": 5,
      "hconcat": [
        {
          "width": 188, "height": 102,
          "title": {"text": "SARS-CoV-2 MP A", "fontSize": 14, "offset": -28},
          "layer": [
            {"data": {"name": "bars"}, "transform": [{"filter": "datum.panel === 'SARS-CoV-2 MP A'"}],
             "mark": {"type": "bar", "width": 7, "fill": "#7f7f7f", "stroke": "#1a1a1a", "strokeWidth": 1},
             "encoding": {
               "x": {"field": "donor", "type": "ordinal", "scale": {"domain": ["#28","#29","#30","#31","#32","#33","#34","#35","#36","#37"], "paddingInner": 0.05, "paddingOuter": 0}, "axis": {"title": null, "domain": false, "ticks": false, "labelAngle": 0, "labelFontSize": 10, "labelPadding": 7}},
               "y": {"field": "si", "type": "quantitative", "scale": {"type": "log", "domain": [1, 76.4], "nice": false}, "axis": {"title": ["4-1BB+ CD69+ CD8+ T cells", "Stimulation Index"], "titleFontSize": 10, "titleLineHeight": 11, "titlePadding": 0, "titleY": 62, "domain": false, "values": [1,2,3,4,5,6,7,8,9,10,20,30], "labelExpr": "indexof([1,5,10,30], datum.value) >= 0 ? toString(datum.value) : ''", "labelFontSize": 10, "labelPadding": 0, "tickSize": {"condition": {"test": "indexof([1,5,10,30], datum.value) >= 0", "value": 3}, "value": 2}}},
               "y2": {"datum": 1}}},
            {"data": {"name": "cutoff"}, "mark": {"type": "rule", "color": "#000"}, "encoding": {"x": {"datum": "#28", "bandPosition": 0}, "y": {"datum": 1}, "y2": {"datum": 30}}},
            {"data": {"name": "cutoff"}, "mark": {"type": "rule", "strokeDash": [3, 2], "color": "#000"}, "encoding": {"y": {"field": "si", "type": "quantitative"}}},
            {"data": {"name": "groups"}, "layer": [
              {"mark": {"type": "rule", "color": "#000"}, "encoding": {"x": {"field": "first", "type": "ordinal", "bandPosition": 0}, "x2": {"field": "last", "bandPosition": 1}, "y": {"datum": 0.465}}},
              {"mark": {"type": "rule", "color": "#000"}, "encoding": {"x": {"field": "first", "type": "ordinal", "bandPosition": 0}, "y": {"datum": 0.68}, "y2": {"datum": 0.465}}},
              {"mark": {"type": "rule", "color": "#000"}, "encoding": {"x": {"field": "last", "type": "ordinal", "bandPosition": 1}, "y": {"datum": 0.68}, "y2": {"datum": 0.465}}},
              {"mark": {"type": "text", "baseline": "top", "lineBreak": "\n", "fontSize": 12, "lineHeight": 14.5, "fontWeight": "bold"}, "encoding": {"x": {"field": "mid", "type": "ordinal"}, "y": {"datum": 0.44}, "text": {"field": "label"}}}
            ]}
          ]
        },
        {
          "width": 115, "height": 101,
          "layer": [
            {"data": {"name": "dots"}, "transform": [{"filter": "datum.panel === 'SARS-CoV-2 MP A'"}],
             "mark": {"type": "line", "color": "#4d4d4d", "strokeWidth": 1},
             "encoding": {
               "x": {"field": "condition", "type": "ordinal", "scale": {"type": "point", "domain": ["Un-\nstimulated", "SARS-CoV-2\nMP A"], "padding": 0.458, "align": 0.67}, "axis": {"title": null, "labelAngle": 0, "labelFontSize": 10, "labelLineHeight": 11, "labelPadding": 5, "tickSize": 3, "labelExpr": "split(datum.label, '\\n')"}},
               "y": {"field": "pct", "type": "quantitative", "scale": {"type": "log", "domain": [0.005, 3], "nice": false}, "axis": {"title": "% AIM+ CD8+ T cells", "titleFontSize": 11, "titlePadding": 2, "values": [0.01,0.02,0.03,0.04,0.05,0.06,0.07,0.08,0.09,0.1,0.2,0.3,0.4,0.5,0.6,0.7,0.8,0.9,1,2,3], "labelExpr": "indexof([0.01,0.1,1,3], datum.value) >= 0 ? toString(datum.value) : ''", "labelFontSize": 11, "labelPadding": 0, "tickSize": {"condition": {"test": "indexof([0.01,0.1,1,3], datum.value) >= 0", "value": 3}, "value": 2}}},
               "detail": {"field": "pair"}}},
            {"data": {"name": "dots"}, "transform": [{"filter": "datum.panel === 'SARS-CoV-2 MP A'"}],
             "mark": {"type": "circle", "size": 40, "fill": "#808080", "stroke": "#333", "strokeWidth": 1, "opacity": 1},
             "encoding": {"x": {"field": "condition", "type": "ordinal"}, "y": {"field": "pct", "type": "quantitative"}}},
            {"data": {"name": "pval"}, "mark": {"type": "rule", "color": "#000"}, "encoding": {"x": {"datum": "Un-\nstimulated"}, "x2": {"datum": "SARS-CoV-2\nMP A"}, "y": {"datum": 1.8}}},
            {"data": {"name": "pval"}, "mark": {"type": "text", "fontSize": 12, "dx": 30, "baseline": "alphabetic"}, "encoding": {"x": {"datum": "Un-\nstimulated"}, "y": {"datum": 2.0}, "text": {"field": "label"}}}
          ]
        },
        {
          "width": 188, "height": 102,
          "title": {"text": "SARS-CoV-2 MP B", "fontSize": 14, "offset": -28},
          "layer": [
            {"data": {"name": "bars"}, "transform": [{"filter": "datum.panel === 'SARS-CoV-2 MP B'"}],
             "mark": {"type": "bar", "width": 7, "fill": "#7f7f7f", "stroke": "#1a1a1a", "strokeWidth": 1},
             "encoding": {
               "x": {"field": "donor", "type": "ordinal", "scale": {"domain": ["#28","#29","#30","#31","#32","#33","#34","#35","#36","#37"], "paddingInner": 0.05, "paddingOuter": 0}, "axis": {"title": null, "domain": false, "ticks": false, "labelAngle": 0, "labelFontSize": 10, "labelPadding": 7}},
               "y": {"field": "si", "type": "quantitative", "scale": {"type": "log", "domain": [1, 76.4], "nice": false}, "axis": {"title": ["4-1BB+ CD69+ CD8+ T cells", "Stimulation Index"], "titleFontSize": 10, "titleLineHeight": 11, "titlePadding": 0, "titleY": 62, "domain": false, "values": [1,2,3,4,5,6,7,8,9,10,20,30], "labelExpr": "indexof([1,5,10,30], datum.value) >= 0 ? toString(datum.value) : ''", "labelFontSize": 10, "labelPadding": 0, "tickSize": {"condition": {"test": "indexof([1,5,10,30], datum.value) >= 0", "value": 3}, "value": 2}}},
               "y2": {"datum": 1}}},
            {"data": {"name": "cutoff"}, "mark": {"type": "rule", "color": "#000"}, "encoding": {"x": {"datum": "#28", "bandPosition": 0}, "y": {"datum": 1}, "y2": {"datum": 30}}},
            {"data": {"name": "cutoff"}, "mark": {"type": "rule", "strokeDash": [3, 2], "color": "#000"}, "encoding": {"y": {"field": "si", "type": "quantitative"}}},
            {"data": {"name": "groups"}, "layer": [
              {"mark": {"type": "rule", "color": "#000"}, "encoding": {"x": {"field": "first", "type": "ordinal", "bandPosition": 0}, "x2": {"field": "last", "bandPosition": 1}, "y": {"datum": 0.465}}},
              {"mark": {"type": "rule", "color": "#000"}, "encoding": {"x": {"field": "first", "type": "ordinal", "bandPosition": 0}, "y": {"datum": 0.68}, "y2": {"datum": 0.465}}},
              {"mark": {"type": "rule", "color": "#000"}, "encoding": {"x": {"field": "last", "type": "ordinal", "bandPosition": 1}, "y": {"datum": 0.68}, "y2": {"datum": 0.465}}},
              {"mark": {"type": "text", "baseline": "top", "lineBreak": "\n", "fontSize": 12, "lineHeight": 14.5, "fontWeight": "bold"}, "encoding": {"x": {"field": "mid", "type": "ordinal"}, "y": {"datum": 0.44}, "text": {"field": "label"}}}
            ]}
          ]
        },
        {
          "width": 113, "height": 101,
          "layer": [
            {"data": {"name": "dots"}, "transform": [{"filter": "datum.panel === 'SARS-CoV-2 MP B'"}],
             "mark": {"type": "line", "color": "#4d4d4d", "strokeWidth": 1},
             "encoding": {
               "x": {"field": "condition", "type": "ordinal", "scale": {"type": "point", "domain": ["Un-\nstimulated", "SARS-CoV-2\nMP B"], "padding": 0.458, "align": 0.67}, "axis": {"title": null, "labelAngle": 0, "labelFontSize": 10, "labelLineHeight": 11, "labelPadding": 5, "tickSize": 3, "labelExpr": "split(datum.label, '\\n')"}},
               "y": {"field": "pct", "type": "quantitative", "scale": {"type": "log", "domain": [0.005, 3], "nice": false}, "axis": {"title": "% AIM+ CD8+ T cells", "titleFontSize": 11, "titlePadding": 2, "values": [0.01,0.02,0.03,0.04,0.05,0.06,0.07,0.08,0.09,0.1,0.2,0.3,0.4,0.5,0.6,0.7,0.8,0.9,1,2,3], "labelExpr": "indexof([0.01,0.1,1,3], datum.value) >= 0 ? toString(datum.value) : ''", "labelFontSize": 11, "labelPadding": 0, "tickSize": {"condition": {"test": "indexof([0.01,0.1,1,3], datum.value) >= 0", "value": 3}, "value": 2}}},
               "detail": {"field": "pair"}}},
            {"data": {"name": "dots"}, "transform": [{"filter": "datum.panel === 'SARS-CoV-2 MP B'"}],
             "mark": {"type": "circle", "size": 40, "fill": "#808080", "stroke": "#333", "strokeWidth": 1, "opacity": 1},
             "encoding": {"x": {"field": "condition", "type": "ordinal"}, "y": {"field": "pct", "type": "quantitative"}}},
            {"data": {"name": "pval"}, "mark": {"type": "rule", "color": "#000"}, "encoding": {"x": {"datum": "Un-\nstimulated"}, "x2": {"datum": "SARS-CoV-2\nMP B"}, "y": {"datum": 1.8}}},
            {"data": {"name": "pval"}, "mark": {"type": "text", "fontSize": 12, "dx": 30, "baseline": "alphabetic"}, "encoding": {"x": {"datum": "Un-\nstimulated"}, "y": {"datum": 2.0}, "text": {"field": "label"}}}
          ]
        }
      ]
    }
  ]
}
